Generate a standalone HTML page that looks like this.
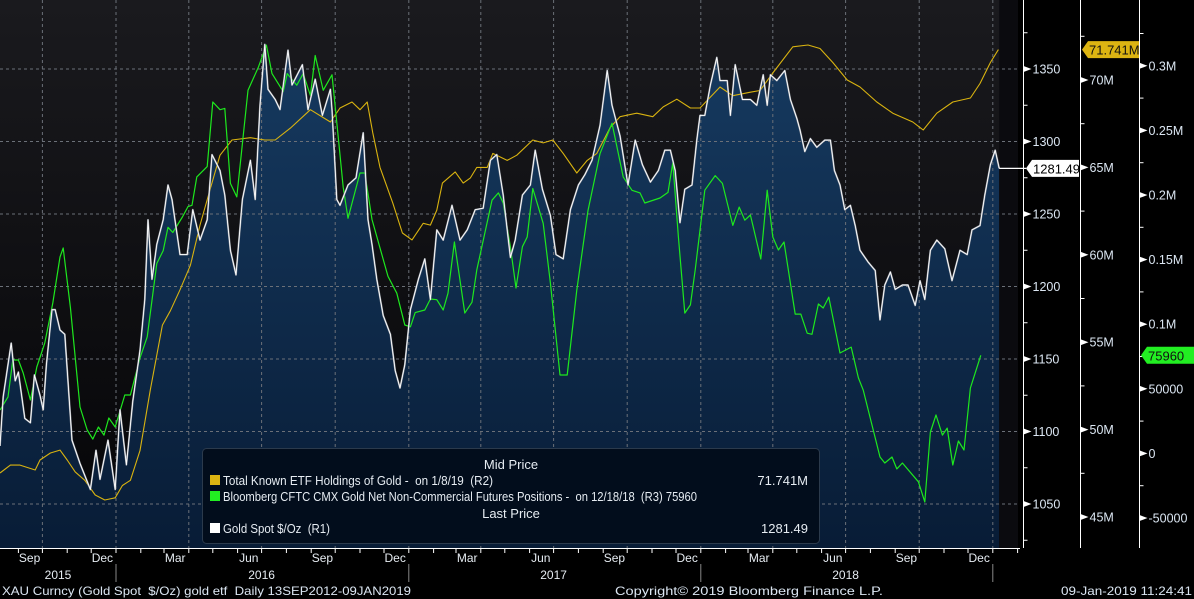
<!DOCTYPE html>
<html><head><meta charset="utf-8">
<style>
html,body{margin:0;padding:0;background:#000;}
svg{display:block;font-family:"Liberation Sans",sans-serif;}
text{white-space:pre;}
</style></head>
<body>
<svg id="chart" width="1194" height="599" viewBox="0 0 1194 599" xmlns="http://www.w3.org/2000/svg">
<defs>
<linearGradient id="bgGrad" x1="0" y1="0" x2="0" y2="1">
<stop offset="0" stop-color="#1a1a1e"/><stop offset="1" stop-color="#050507"/></linearGradient>
<linearGradient id="areaGrad" x1="0" y1="0" x2="0" y2="1">
<stop offset="0" stop-color="#163a60"/><stop offset="1" stop-color="#081c36"/></linearGradient>
<clipPath id="plotClip"><rect x="0" y="0" width="1018" height="548"/></clipPath>
</defs>
<rect x="0" y="0" width="1194" height="599" fill="#000"/>
<rect x="0" y="0" width="1018" height="548" fill="url(#bgGrad)"/>
<g id="area" clip-path="url(#plotClip)"></g>
<g id="grid"></g>
<g id="series" clip-path="url(#plotClip)"></g>
<g id="axes"></g>
</svg>
<script>
// ---- data ----
const goldDays=[0,4,14,19,23,31,38,43,50,54,58,65,69,75,81,90,100,113,120,125,135,144,150,158,166,175,181,185,190,196,204,210,215,225,234,241,250,259,265,275,281,288,295,303,313,319,325,331,335,344,350,360,365,378,385,394,403,413,415,421,425,435,445,454,460,465,471,479,488,494,500,506,513,523,531,538,546,554,565,575,584,594,604,613,621,629,638,644,653,663,669,678,688,695,704,713,723,731,740,750,759,765,775,785,794,803,813,823,831,838,844,850,856,865,871,875,881,888,896,900,909,913,919,928,938,946,954,959,963,971,981,988,996,1000,1006,1013,1021,1031,1038,1043,1050,1056,1063,1069,1075,1085,1094,1100,1106,1113,1119,1128,1135,1144,1150,1156,1163,1171,1181,1190,1200,1209,1215,1225,1231,1238,1244,1249];
const goldPrice=[1090,1124,1161,1135,1141,1109,1106,1139,1125,1115,1146,1184,1184,1170,1167,1094,1078,1060,1087,1067,1094,1060,1115,1077,1121,1156,1191,1246,1205,1229,1246,1270,1260,1222,1222,1253,1232,1246,1291,1280,1263,1225,1208,1260,1287,1260,1325,1367,1336,1329,1322,1363,1339,1353,1322,1343,1318,1336,1322,1260,1256,1270,1275,1306,1246,1229,1205,1180,1167,1142,1130,1146,1184,1205,1219,1191,1239,1232,1256,1232,1239,1253,1254,1287,1291,1263,1220,1232,1263,1270,1294,1267,1249,1222,1219,1253,1270,1277,1287,1311,1349,1325,1304,1270,1301,1284,1272,1280,1294,1294,1280,1244,1267,1270,1301,1318,1318,1339,1358,1342,1342,1318,1353,1329,1329,1325,1346,1325,1346,1342,1349,1329,1316,1308,1293,1302,1296,1301,1301,1280,1270,1253,1256,1242,1225,1217,1211,1177,1201,1210,1198,1201,1201,1187,1204,1191,1225,1232,1226,1204,1225,1222,1239,1242,1263,1284,1294,1281.49];
const etfDays=[0,13,25,44,50,63,75,84,94,106,119,131,144,153,163,175,188,203,213,225,238,250,263,275,290,313,331,344,363,388,413,425,440,450,459,466,475,491,503,515,529,538,546,553,569,579,588,596,609,616,634,646,666,679,691,704,721,734,746,763,775,796,816,829,846,863,875,900,916,938,950,966,991,1010,1025,1041,1059,1075,1096,1116,1141,1154,1171,1191,1213,1225,1238,1248];
const etfHoldingsM=[47.52,47.97,47.97,47.69,48.26,48.66,48.83,48.26,47.58,47.1,46.26,45.97,46.1,46.8,47.1,48.8,52.3,55.98,56.8,58.0,59.4,61.7,63.8,65.7,66.57,66.7,66.57,66.57,67.25,68.3,67.6,68.4,68.74,68.3,68.74,66.97,65.0,62.96,61.25,60.85,61.8,61.7,62.56,64.1,64.74,64.1,64.4,65.0,65.0,65.8,65.4,65.7,66.57,66.4,66.57,65.8,64.68,65.4,65.8,67.3,67.9,68.1,67.9,68.46,68.9,68.4,68.4,69.6,69.1,69.3,69.4,70.4,71.9,72.0,71.8,71.0,70.0,69.6,68.74,68.1,67.6,67.14,68.1,68.74,68.97,69.8,71.0,71.741];
const cftcDays=[0,10,16,23,29,38,46,56,66,75,79,88,100,109,116,123,130,136,144,156,163,175,184,196,204,210,216,228,235,240,246,259,266,275,281,288,296,310,323,333,340,354,359,371,379,388,394,404,415,421,429,435,450,456,465,485,496,506,513,519,531,538,546,554,560,568,581,590,596,615,623,629,638,645,653,659,666,679,688,700,709,721,735,750,765,779,790,800,806,825,835,841,848,856,863,869,881,894,903,916,924,931,938,951,959,966,973,980,994,1001,1009,1015,1023,1029,1036,1050,1064,1073,1079,1100,1106,1115,1121,1128,1148,1156,1163,1170,1178,1184,1191,1198,1205,1213,1226];
const cftcK=[33.6,43.7,72.3,72.3,62.2,41.3,66.9,85.5,116.4,152,159,113,35.9,18.1,11.1,20.4,14.2,27.4,20.4,45.2,45.2,73.9,90.2,147,157,175,171,183,191,192,214,222,272,266,267,209,198.5,281,299,316,294,280,294,285,294,277,308,281,293,256,206,182,217,217,181,137,124,99.4,98,109,111,119.5,119,111,124,163.6,108.6,117,142,196,201.6,193.8,159.8,128,160,167.5,205,178,131.9,60.7,60.7,126.5,188,232,255.6,214,203.6,201.6,193.8,197.7,202,225,167.5,108.6,114.9,142,203.7,215,209,176.5,190.6,180.5,184.5,150.5,203.7,167.5,157.4,163.6,107.8,107.8,93,92.2,115.6,112.5,121,77.7,82.3,58.4,49.1,-2.8,-7.4,-2.8,-12,-7.4,-22,-37.6,16.6,29.7,14.2,19.6,-9,9.6,2.6,50.6,75.96];
const r1Ticks=[1050,1100,1150,1200,1250,1300,1350];
const r2Ticks=[45,50,55,60,65,70];
const r3Ticks=[-50000,0,50000,100000,150000,200000,250000,300000];
const r3Labels=["-50000","0","50000","0.1M","0.15M","0.2M","0.25M","0.3M"];
const monthLabels=["Sep","Dec","Mar","Jun","Sep","Dec","Mar","Jun","Sep","Dec","Mar","Jun","Sep","Dec"];
const yearLabels=["2015","2016","2017","2018"];

// ---- scales ----
const start=new Date(2015,7,9);
const xDay=d=>d*0.8;
const xDate=dt=>xDay((dt-start)/86400000);
const y1=v=>69+(1350-v)*1.45;
const y2=m=>80+(70-m)*17.48;
const y3=v=>453.4-v/50000*64.6;

const NS="http://www.w3.org/2000/svg";
function mk(tag,attrs,parent,text){const e=document.createElementNS(NS,tag);for(const k in attrs)e.setAttribute(k,attrs[k]);if(text!==undefined)e.textContent=text;parent.appendChild(e);return e;}
const area=document.getElementById('area'),grid=document.getElementById('grid'),series=document.getElementById('series'),axes=document.getElementById('axes');

let pts=goldDays.map((d,i)=>xDay(d).toFixed(1)+","+y1(goldPrice[i]).toFixed(1));
const lastX=xDay(goldDays[goldDays.length-1]);
const ar=mk('polygon',{points:"0,548 "+pts.join(" ")+" "+lastX+",548",fill:"url(#areaGrad)"},area);


const rr=mk('rect',{x:lastX,y:0,width:1018-lastX,height:548,fill:"#0b0b0f"},area);



r1Ticks.forEach(v=>{const l=mk('line',{x1:0,x2:1018,y1:y1(v),y2:y1(v),stroke:"#6b7078","stroke-width":1,"stroke-dasharray":"3,3"},grid);

});
for(let y=2015;y<=2019;y++)for(let m=0;m<12;m+=3){const x=xDate(new Date(y,m,1));if(x>2&&x<1018){const l=mk('line',{x1:x,x2:x,y1:0,y2:548,stroke:"#6b7078","stroke-width":1,"stroke-dasharray":"3,3"},grid);

}}

function line(days,vals,ys,color,name,w){const p=days.map((d,i)=>xDay(d).toFixed(1)+","+ys(vals[i]).toFixed(1)).join(" ");const e=mk('polyline',{points:p,fill:"none",stroke:color,"stroke-width":w,"stroke-linejoin":"round"},series);

}
line(etfDays,etfHoldingsM,y2,"#d9b310","etf-holdings-line",1.1);
line(cftcDays,cftcK.map(v=>v*1000),y3,"#1ee81e","cftc-positions-line",1.2);
line(goldDays,goldPrice,y1,"#8a909a","gold-spot-shadow",1.8);
line(goldDays,goldPrice,y1,"#ffffff","gold-spot-line",0.9);

const ba=mk('line',{x1:0,x2:1020,y1:548.5,y2:548.5,stroke:"#fff","stroke-width":1},axes);


for(let y=2015;y<=2019;y++)for(let m=0;m<12;m++){const x=xDate(new Date(y,m,1));if(x>2&&x<1020){mk('line',{x1:x,x2:x,y1:548,y2:553,stroke:"#fff"},axes);}}
let li=0;
for(let y=2015;y<=2019;y++)for(let m=0;m<12;m++){if(m%3!==2)continue;const x=xDate(new Date(y,m,15));if(x>0&&x<1010&&li<monthLabels.length){const t=mk('text',{x:x,y:562,fill:"#e6ecf2","font-size":12,"text-anchor":"middle"},axes,monthLabels[li++]);

}}
const yearCenters=[new Date(2015,9,20),new Date(2016,6,1),new Date(2017,6,1),new Date(2018,6,1)];
yearLabels.forEach((s,i)=>{const t=mk('text',{x:i===0?58:xDate(yearCenters[i]),y:579,fill:"#e6ecf2","font-size":12,"text-anchor":"middle"},axes,s);

});
for(let y=2016;y<=2019;y++){const x=xDate(new Date(y,0,1));mk('line',{x1:x,x2:x,y1:564,y2:582,stroke:"#888"},axes);}

function rightAxis(ax,ticks,labels,ys,name,minor){
 const a=mk('line',{x1:ax,x2:ax,y1:0,y2:548,stroke:"#fff","stroke-width":1},axes);
 
 
 minor.forEach(v=>{const y=ys(v);if(y>2&&y<546)mk('line',{x1:ax,x2:ax+4,y1:y,y2:y,stroke:"#fff"},axes);});
 ticks.forEach((v,i)=>{const y=ys(v);mk('polygon',{points:`${ax},${y-3} ${ax+8},${y} ${ax},${y+3}`,fill:"#fff"},axes);
 const t=mk('text',{x:ax+9,y:y+4.5,fill:"#dbe6f2","font-size":12.5},axes,labels[i]);
 
 });
}
rightAxis(1023.5,r1Ticks,r1Ticks.map(String),y1,'r1-axis',[1025,1075,1125,1175,1225,1275,1325,1375]);
rightAxis(1080.5,r2Ticks,r2Ticks.map(v=>v+"M"),y2,'r2-axis',[42.5,47.5,52.5,57.5,62.5,67.5,72.5]);
rightAxis(1139.5,r3Ticks,r3Labels,y3,'r3-axis',[-75000,-25000,25000,75000,125000,175000,225000,275000,325000]);

function tag(x,y,w,bg,fg,txt,name){const g=mk('g',{},axes);
 mk('polygon',{points:`${x},${y} ${x+6},${y-8.5} ${x+w},${y-8.5} ${x+w},${y+8.5} ${x+6},${y+8.5}`,fill:bg},g);
 mk('text',{x:x+7,y:y+5,fill:fg,"font-size":13},g,txt);}
const gy=y1(goldPrice[goldPrice.length-1]);
mk('line',{x1:lastX,x2:1026,y1:gy,y2:gy,stroke:"#fff","stroke-width":1.2},axes);
tag(1026,gy,53,"#fff","#000","1281.49","gold-last-price-tag");
tag(1082,y2(etfHoldingsM[etfHoldingsM.length-1]),57,"#dcb412","#111","71.741M","etf-last-value-tag");
tag(1141,y3(cftcK[cftcK.length-1]*1000),53,"#22ee22","#111","75960","cftc-last-value-tag");
</script>
<svg style="position:absolute;left:0;top:0" width="1194" height="599">
<g font-family="Liberation Sans, sans-serif" font-size="13">
<rect x="202.5" y="448.5" width="617" height="95" rx="4" fill="#020d1c" stroke="#2b3a4c"/>
<text x="511" y="469" fill="#e6ecf2" text-anchor="middle">Mid Price</text>
<rect x="210" y="475" width="10" height="10" fill="#dcb412"/>
<text x="223" y="485" fill="#e6ecf2" textLength="270" lengthAdjust="spacingAndGlyphs">Total Known ETF Holdings of Gold -  on 1/8/19  (R2)</text>
<text x="808" y="485" fill="#e6ecf2" text-anchor="end">71.741M</text>
<rect x="210" y="491" width="10" height="10" fill="#22ee22"/>
<text x="223" y="501" fill="#e6ecf2" textLength="474" lengthAdjust="spacingAndGlyphs">Bloomberg CFTC CMX Gold Net Non-Commercial Futures Positions -  on 12/18/18  (R3) 75960</text>
<text x="511" y="518" fill="#e6ecf2" text-anchor="middle">Last Price</text>
<rect x="210" y="523" width="10" height="10" fill="#ffffff"/>
<text x="223" y="533" fill="#e6ecf2" textLength="107" lengthAdjust="spacingAndGlyphs">Gold Spot $/Oz  (R1)</text>
<text x="808" y="533" fill="#e6ecf2" text-anchor="end">1281.49</text>
</g>
<g font-family="Liberation Sans, sans-serif" font-size="12" fill="#dbe6f2">
<text x="2" y="595" textLength="409" lengthAdjust="spacingAndGlyphs">XAU Curncy (Gold Spot  $/Oz) gold etf  Daily 13SEP2012-09JAN2019</text>
<text x="615" y="595" textLength="268" lengthAdjust="spacingAndGlyphs">Copyright© 2019 Bloomberg Finance L.P.</text>
<text x="1061" y="595" textLength="131" lengthAdjust="spacingAndGlyphs">09-Jan-2019 11:24:41</text>
</g>
</svg>
</body></html>
